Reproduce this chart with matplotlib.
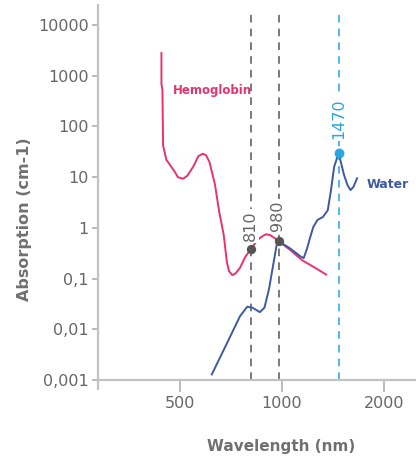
import numpy as np
import matplotlib
matplotlib.use("Agg")
import matplotlib.pyplot as plt
from matplotlib.ticker import FixedLocator, FixedFormatter, NullLocator
from matplotlib.lines import Line2D

# ---------------- data ----------------
hb_wl = [441, 441, 444, 446, 456, 483, 493, 511, 526, 547, 567, 584, 597, 611, 634, 653,
         673, 688, 698, 714, 730, 752, 780, 810, 845, 872, 897, 922, 950, 980, 1061, 1147,
         1240, 1350]
hb_abs = [2800, 690, 520, 42, 22, 12.7, 10, 9.3, 10.7, 16, 26, 29, 27, 20, 7.3, 2.06,
          0.74, 0.21, 0.14, 0.117, 0.127, 0.163, 0.27, 0.38, 0.57, 0.67, 0.75, 0.72, 0.635,
          0.54, 0.36, 0.23, 0.17, 0.12]

water_wl = [621, 690, 752, 790, 818, 861, 888, 916, 944, 964, 980, 1053, 1134, 1159, 1185,
            1210, 1238, 1273, 1321, 1365, 1395, 1426, 1470, 1490, 1525, 1561, 1593, 1625, 1666]
water_abs = [0.00129, 0.0055, 0.0181, 0.0279, 0.0267, 0.0218, 0.0267, 0.0627, 0.20, 0.45,
             0.54, 0.40, 0.274, 0.253, 0.384, 0.635, 1.05, 1.43, 1.64, 2.22, 5.5, 16.1, 30,
             20.5, 11, 6.96, 5.56, 6.4, 9.5]

gray_marks_wl = [810, 980]
gray_marks_abs = [0.38, 0.54]
gray_marks_txt = ["810", "980"]
blue_mark_wl = [1470]
blue_mark_abs = [30]
blue_mark_txt = ["1470"]

y_ticks = [0.001, 0.01, 0.1, 1, 10, 100, 1000, 10000]
y_labels = ["0,001", "0,01", "0,1", "1", "10", "100", "1000", "10000"]
x_ticks = [500, 1000, 2000]
x_labels = ["500", "1000", "2000"]

# ---------------- style ----------------
HB_COLOR = "#e6336f"
WATER_COLOR = "#3c5aa2"
LIGHT_BLUE = "#27a6e0"
MARK_GRAY = "#555555"
SPINE = "#c2c2c2"
TICK = "#a8a8a8"
TEXT_GRAY = "#666666"

plt.rcParams['font.family'] = ['DejaVu Sans']

fig = plt.figure(figsize=(4.16, 4.63), dpi=100)
ax_h = (380 - 5) / 463
ax = fig.add_axes([98/416, 1 - 380/463, 1 - 98/416, ax_h])

ax.set_xscale('log')
ax.set_yscale('log')
ybot, ytop = 1e-3, 2.48e4
ax.set_xlim(286.6, 2486)
ax.set_ylim(ybot, ytop)

# spines
for s in ['top', 'right']:
    ax.spines[s].set_visible(False)
for s in ['left', 'bottom']:
    ax.spines[s].set_color(SPINE)
    ax.spines[s].set_linewidth(1.6)
# y axis line continues slightly below the x axis
ext = Line2D([0, 0], [0, -10/375], transform=ax.transAxes, color=SPINE, lw=1.6,
             clip_on=False, solid_capstyle='butt')
ax.add_line(ext)

ax.yaxis.set_major_locator(FixedLocator(y_ticks))
ax.yaxis.set_major_formatter(FixedFormatter(y_labels))
ax.xaxis.set_major_locator(FixedLocator(x_ticks))
ax.xaxis.set_major_formatter(FixedFormatter(x_labels))
ax.yaxis.set_minor_locator(NullLocator())
ax.xaxis.set_minor_locator(NullLocator())
ax.tick_params(axis='y', length=4.5, width=1.1, color=TICK, labelcolor=TEXT_GRAY,
               labelsize=11.5, pad=2)
ax.tick_params(axis='x', length=8.5, width=1.1, color=TICK, labelcolor=TEXT_GRAY,
               labelsize=11.5, pad=3)

# reference dashed lines
for wl in gray_marks_wl:
    ax.axvline(wl, ymin=0, ymax=0.99, color=MARK_GRAY, lw=1.1,
               dashes=(5, 4), zorder=1)
for wl in blue_mark_wl:
    ax.axvline(wl, ymin=0, ymax=0.99, color=LIGHT_BLUE, lw=1.1,
               dashes=(5, 4), zorder=1)

# curves
ax.plot(hb_wl, hb_abs, color=HB_COLOR, lw=1.4, zorder=3, solid_joinstyle='round')
ax.plot(water_wl, water_abs, color=WATER_COLOR, lw=1.4, zorder=3, solid_joinstyle='round')

# markers
ax.scatter(gray_marks_wl, gray_marks_abs, s=45, color=MARK_GRAY, zorder=5, linewidths=0)
ax.scatter(blue_mark_wl, blue_mark_abs, s=50, color=LIGHT_BLUE, zorder=5, linewidths=0)

offs = [8, 10]
for wl, v, t, o in zip(gray_marks_wl, gray_marks_abs, gray_marks_txt, offs):
    ax.annotate(t, (wl, v), xytext=(-1, o), textcoords='offset pixels', rotation=90,
                ha='center', va='bottom', fontsize=11.5, color=TEXT_GRAY, zorder=4,
                bbox=dict(boxstyle='square,pad=0.1', fc='white', ec='none'))
for wl, v, t in zip(blue_mark_wl, blue_mark_abs, blue_mark_txt):
    ax.annotate(t, (wl, v), xytext=(0, 14), textcoords='offset pixels', rotation=90,
                ha='center', va='bottom', fontsize=11.5, color=LIGHT_BLUE, zorder=4,
                bbox=dict(boxstyle='square,pad=0.1', fc='white', ec='none'))

# series labels
ax.text(476, 522, "Hemoglobin", color=HB_COLOR, fontsize=8.5, fontweight='bold',
        ha='left', va='center')
ax.text(1782, 7.3, "Water", color=WATER_COLOR, fontsize=9, fontweight='bold',
        ha='left', va='center')

# axis titles
fig.text(281.5/416, 1 - 447/463, "Wavelength (nm)", ha='center', va='center',
         fontsize=11, fontweight='bold', color="#707070")
fig.text(25/416, 1 - 219/463, "Absorption (cm-1)", ha='center', va='center',
         rotation=90, fontsize=11.5, fontweight='bold', color="#707070")

fig.savefig("out.png", dpi=100, facecolor='white')
